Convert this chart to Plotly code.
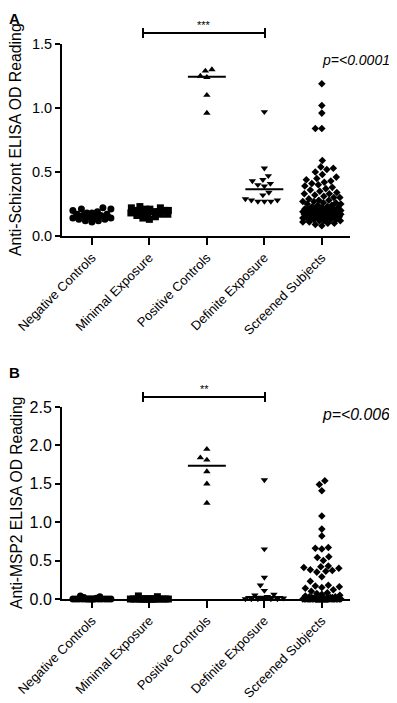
import numpy as np
import plotly.graph_objects as go

# ---------------- data ----------------
categories = ["Negative Controls", "Minimal Exposure", "Positive Controls",
              "Definite Exposure", "Screened Subjects"]
symbols = ["circle", "square", "triangle-up", "triangle-down", "diamond"]

y_ticks_a = [0.0, 0.5, 1.0, 1.5]
y_ticks_b = [0.0, 0.5, 1.0, 1.5, 2.0, 2.5]

schizont_negative = [0.11, 0.12, 0.12, 0.13, 0.13, 0.14, 0.14, 0.15, 0.15, 0.16,
                     0.16, 0.17, 0.17, 0.18, 0.18, 0.19, 0.20, 0.21, 0.21, 0.22]
schizont_minimal = [0.13, 0.14, 0.15, 0.16, 0.17, 0.17, 0.18, 0.18, 0.19, 0.19,
                    0.19, 0.20, 0.20, 0.20, 0.21, 0.21, 0.22, 0.22, 0.23]
schizont_positive = [0.96, 1.10, 1.24, 1.25, 1.29, 1.30]
schizont_definite = [0.27, 0.27, 0.27, 0.28, 0.28, 0.29, 0.32, 0.34, 0.39, 0.40,
                     0.41, 0.43, 0.44, 0.47, 0.53, 0.97]
schizont_screened = [0.08, 0.09, 0.10, 0.10, 0.11, 0.11, 0.12, 0.12, 0.12, 0.13,
                     0.13, 0.13, 0.14, 0.14, 0.14, 0.14, 0.15, 0.15, 0.15, 0.15,
                     0.16, 0.16, 0.16, 0.16, 0.17, 0.17, 0.17, 0.17, 0.18, 0.18,
                     0.18, 0.18, 0.19, 0.19, 0.19, 0.19, 0.20, 0.20, 0.20, 0.20,
                     0.21, 0.21, 0.21, 0.21, 0.22,
                     0.22, 0.23, 0.23, 0.24, 0.24, 0.25, 0.25, 0.26, 0.26, 0.27,
                     0.27, 0.28, 0.28, 0.29, 0.30, 0.30, 0.31, 0.32, 0.33, 0.33,
                     0.34, 0.35, 0.36, 0.37, 0.38, 0.39, 0.40, 0.41, 0.42, 0.43,
                     0.44, 0.45, 0.46, 0.48, 0.50, 0.52, 0.53, 0.54, 0.59, 0.84,
                     0.84, 0.96, 1.02, 1.19]

msp2_negative = [0.0, 0.0, 0.0, 0.0, 0.0, 0.0, 0.0, 0.0, 0.0, 0.0,
                 0.0, 0.0, 0.0, 0.0, 0.0, 0.0, 0.01, 0.02, 0.03, 0.04]
msp2_minimal = [0.0, 0.0, 0.0, 0.0, 0.0, 0.0, 0.0, 0.0, 0.0, 0.0,
                0.0, 0.0, 0.0, 0.0, 0.0, 0.0, 0.0, 0.0, 0.03, 0.04]
msp2_positive = [1.25, 1.50, 1.66, 1.81, 1.84, 1.95]
msp2_definite = [0.0, 0.0, 0.0, 0.0, 0.0, 0.0, 0.01, 0.02, 0.03, 0.05,
                 0.06, 0.11, 0.18, 0.28, 0.65, 1.55]
msp2_screened = [0.0, 0.0, 0.0, 0.0, 0.0, 0.0, 0.0, 0.0, 0.0, 0.0,
                 0.0, 0.0, 0.0, 0.0, 0.0, 0.0, 0.0, 0.0, 0.0, 0.0,
                 0.0, 0.0, 0.0, 0.0, 0.0, 0.0, 0.0, 0.0, 0.0, 0.0,
                 0.0, 0.0, 0.0, 0.0, 0.0, 0.0, 0.0, 0.0, 0.0, 0.0,
                 0.0, 0.0, 0.0, 0.0, 0.0,
                 0.01, 0.01, 0.01, 0.02, 0.02, 0.02, 0.03, 0.03, 0.04, 0.05,
                 0.06, 0.07, 0.08, 0.10, 0.12, 0.14, 0.15, 0.16, 0.17, 0.18,
                 0.23, 0.29, 0.35, 0.36, 0.37, 0.38, 0.40, 0.41, 0.42, 0.43,
                 0.50, 0.54, 0.55, 0.65, 0.66, 0.67, 0.82, 0.91, 1.08, 1.41,
                 1.49, 1.54]

panel_a = [schizont_negative, schizont_minimal, schizont_positive,
           schizont_definite, schizont_screened]
panel_b = [msp2_negative, msp2_minimal, msp2_positive, msp2_definite, msp2_screened]

# ---------------- layout geometry ----------------
# The page body has an 8px default margin, so the figure is sized to fit the
# 397x703 window and positions are given in window pixels minus that margin.
PAGE_MARGIN = 8
W, H = 397 - PAGE_MARGIN, 703 - PAGE_MARGIN
FONT = "Liberation Sans, Arial, sans-serif"


def xp(px):
    return (px - PAGE_MARGIN) / W


def yp(py):
    return 1 - (py - PAGE_MARGIN) / H


X0_PX, X1_PX = 62, 350
X_RANGE = [-0.52, 4.49]
PX_PER_CAT = (X1_PX - X0_PX) / (X_RANGE[1] - X_RANGE[0])

A_TOP, A_BOT = 44, 236
B_TOP, B_BOT = 407, 599


def swarm(values, px_per_y, diam=6.5, max_px=19.0):
    vals = np.sort(np.asarray(values, dtype=float))
    cands = np.arange(-max_px, max_px + 0.01, 0.5)
    order = np.argsort(np.abs(cands) + (cands > 0) * 1e-6, kind="stable")
    cands = cands[order]
    px_list, py_list, offs = [], [], []
    for v in vals:
        y = v * px_per_y
        if px_list:
            pxa = np.array(px_list)
            pya = np.array(py_list)
            d = np.sqrt((cands[:, None] - pxa[None, :]) ** 2 + (y - pya[None, :]) ** 2).min(axis=1)
            ok = np.where(d >= diam)[0]
            best = cands[ok[0]] if len(ok) else cands[np.argmax(d)]
        else:
            best = 0.0
        px_list.append(best)
        py_list.append(y)
        offs.append(best / PX_PER_CAT)
    return vals, np.array(offs)


fig = go.Figure()
sizes = {"circle": 7, "square": 7, "triangle-up": 6.5, "triangle-down": 6.5, "diamond": 5.8}


def add_panel(groups, xa, ya, ymax, top, bot):
    px_per_y = (bot - top) / ymax
    for i, vals in enumerate(groups):
        v, off = swarm(vals, px_per_y)
        fig.add_trace(go.Scatter(
            x=i + off, y=v, mode="markers", xaxis=xa, yaxis=ya,
            marker=dict(symbol=symbols[i], color="black", size=sizes[symbols[i]],
                        line=dict(width=0)),
            cliponaxis=False, showlegend=False, hoverinfo="y"))
        med = float(np.median(vals))
        fig.add_trace(go.Scatter(
            x=[i - 0.33, i + 0.33], y=[med, med], mode="lines", xaxis=xa, yaxis=ya,
            line=dict(color="black", width=2), cliponaxis=False,
            showlegend=False, hoverinfo="skip"))


add_panel(panel_a, "x", "y", 1.5, A_TOP, A_BOT)
add_panel(panel_b, "x2", "y2", 2.5, B_TOP, B_BOT)

xdom = [xp(X0_PX), xp(X1_PX)]


def xaxis_cfg(anchor):
    return dict(domain=xdom, anchor=anchor, range=X_RANGE, automargin=False,
                tickvals=list(range(len(categories))), ticktext=categories,
                tickangle=-45, ticks="outside", ticklen=7, tickwidth=2, tickcolor="black",
                showline=True, linewidth=2, linecolor="black", showgrid=False,
                zeroline=False, tickfont=dict(family=FONT, size=13, color="black"))


def yaxis_cfg(anchor, top, bot, ymax, tv, fs):
    return dict(domain=[yp(bot), yp(top)], anchor=anchor, range=[0, ymax],
                automargin=False,
                tickvals=tv, tickformat=".1f", ticks="outside", ticklen=5, tickwidth=2,
                tickcolor="black", showline=True, linewidth=2, linecolor="black",
                showgrid=False, zeroline=False,
                tickfont=dict(family=FONT, size=fs, color="black"))


def note(text, x, y, size, angle=0, xanchor="center"):
    return dict(text=text, x=xp(x), y=yp(y), xref="paper", yref="paper",
                xanchor=xanchor, yanchor="middle", textangle=angle, showarrow=False,
                font=dict(family=FONT, size=size, color="black"))


annotations = [
    note("<b>A</b>", 14, 18, 15),
    note("<b>B</b>", 14, 372, 15),
    note("Anti-Schizont ELISA OD Reading", 16, 140, 15.8, angle=-90),
    note("Anti-MSP2 ELISA OD Reading", 16, 503, 15.6, angle=-90),
    note("<i>p=&lt;0.0001</i>", 320, 60, 14, xanchor="left"),
    note("<i>p=&lt;0.006</i>", 320, 414, 15.8, xanchor="left"),
    note("***", 204, 25, 11),
    note("**", 204, 389, 11),
]

shapes = []
for yb in (33, 397):
    shapes.append(dict(type="line", xref="paper", yref="paper", x0=xp(143), x1=xp(265),
                       y0=yp(yb), y1=yp(yb), line=dict(color="black", width=2)))
    for xe in (143, 265):
        shapes.append(dict(type="line", xref="paper", yref="paper", x0=xp(xe), x1=xp(xe),
                           y0=yp(yb - 5), y1=yp(yb + 5),
                           line=dict(color="black", width=2)))

fig.update_layout(
    width=W, height=H, margin=dict(l=0, r=0, t=0, b=0, autoexpand=False),
    paper_bgcolor="white", plot_bgcolor="white",
    xaxis=xaxis_cfg("y"), yaxis=yaxis_cfg("x", A_TOP, A_BOT, 1.5, y_ticks_a, 14.5),
    xaxis2=xaxis_cfg("y2"), yaxis2=yaxis_cfg("x2", B_TOP, B_BOT, 2.5, y_ticks_b, 16),
    annotations=annotations, shapes=shapes, showlegend=False,
)

fig.write_html("out.html")
